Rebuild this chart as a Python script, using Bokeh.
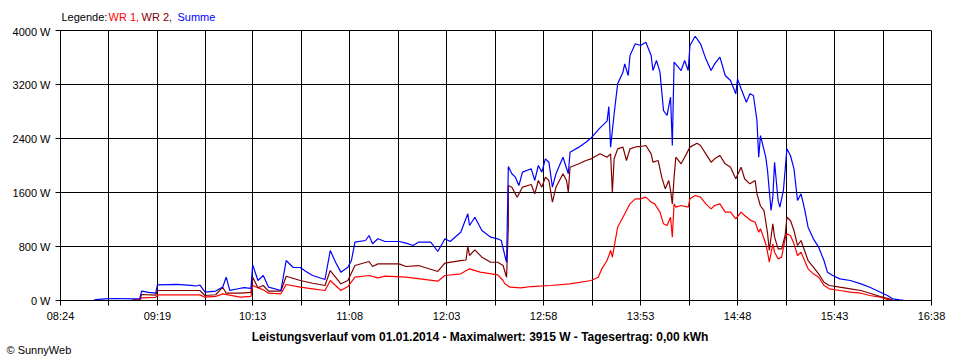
from bokeh.plotting import figure
from bokeh.models import Range1d, FixedTicker, CustomJSTickFormatter, Label
from bokeh.embed import file_html
from bokeh.resources import INLINE

# ---------------- data ----------------
x_tick_labels = ["08:24", "09:19", "10:13", "11:08", "12:03",
                 "12:58", "13:53", "14:48", "15:43", "16:38"]
y_ticks = [0, 800, 1600, 2400, 3200, 4000]

# Summe (blue)
t_sum = ["08:43", "08:49", "08:55", "09:05", "09:09", "09:10", "09:14", "09:18", "09:19", "09:30",
         "09:38", "09:41", "09:43", "09:46", "09:52", "09:56", "09:58", "10:00", "10:04", "10:08",
         "10:12", "10:13", "10:16", "10:19", "10:22", "10:29", "10:32", "10:36", "10:40", "10:43",
         "10:47", "10:54", "10:57", "11:00", "11:03", "11:07", "11:09", "11:11", "11:17", "11:19",
         "11:21", "11:24", "11:28", "11:36", "11:40", "11:44", "11:47", "11:54", "11:58", "12:02",
         "12:05", "12:11", "12:15", "12:16", "12:19", "12:23", "12:28", "12:32", "12:34", "12:36",
         "12:37", "12:38", "12:40", "12:42", "12:44", "12:46", "12:51", "12:53", "12:55", "12:57",
         "12:59", "13:01", "13:03", "13:05", "13:09", "13:12", "13:13", "13:18", "13:22", "13:25",
         "13:30", "13:34", "13:35", "13:36", "13:38", "13:40", "13:43", "13:44", "13:46", "13:47",
         "13:50", "13:53", "13:56", "13:59", "14:00", "14:02", "14:04", "14:06", "14:08", "14:10",
         "14:11", "14:12", "14:16", "14:18", "14:20", "14:21", "14:24", "14:27", "14:30", "14:33",
         "14:35", "14:38", "14:41", "14:44", "14:47", "14:48", "14:50", "14:53", "14:55", "14:57",
         "14:59", "15:00", "15:01", "15:04", "15:05", "15:07", "15:08", "15:09", "15:11", "15:12",
         "15:14", "15:16", "15:18", "15:20", "15:22", "15:24", "15:26", "15:28", "15:31", "15:34",
         "15:37", "15:39", "15:42", "15:46", "15:52", "15:58", "16:03", "16:09", "16:13", "16:16",
         "16:20", "16:22"]
p_sum = [10, 25, 30, 25, 30, 138, 120, 110, 232, 240,
         225, 215, 230, 123, 140, 200, 345, 150, 170, 190,
         180, 528, 296, 370, 197, 148, 592, 489, 489, 434,
         370, 311, 740, 567, 420, 493, 592, 864, 889, 963,
         840, 914, 874, 874, 849, 815, 864, 864, 726, 914,
         874, 1012, 1284, 1111, 1234, 1037, 938, 914, 889, 667,
         567, 1985, 1877, 1827, 1704, 1901, 1951, 1778, 2000, 1901,
         2099, 2049, 1679, 1877, 2123, 1877, 2197, 2272, 2345, 2410,
         2558, 2657, 2874, 2272, 2766, 3210, 3383, 3506, 3333, 3630,
         3803, 3778, 3827, 3630, 3407, 3556, 3383, 2815, 2741, 3012,
         2296, 3531, 3407, 3556, 3407, 3778, 3915, 3803, 3580, 3407,
         3506, 3605, 3333, 3259, 3062, 3284, 3136, 2938, 3062, 3037,
         2667, 2123, 2444, 2123, 1926, 1333, 1531, 2049, 1481, 1382,
         1630, 2247, 2148, 1951, 1481, 1580, 1358, 1086, 914, 790,
         592, 420, 370, 321, 296, 247, 197, 123, 74, 25,
         10, 5]

# WR 2 (dark red)
t_wr2 = ["09:05", "09:09", "09:10", "09:18", "09:19", "09:43", "09:46", "09:52", "09:56", "09:58",
         "10:06", "10:12", "10:13", "10:16", "10:19", "10:22", "10:29", "10:32", "10:40", "10:47",
         "10:54", "10:57", "11:03", "11:07", "11:11", "11:19", "11:21", "11:24", "11:36", "11:40",
         "11:47", "11:58", "12:02", "12:11", "12:14", "12:15", "12:16", "12:19", "12:23", "12:28",
         "12:32", "12:35", "12:37", "12:38", "12:38", "12:40", "12:43", "12:46", "12:51", "12:53",
         "12:55", "12:57", "12:59", "13:01", "13:03", "13:05", "13:09", "13:11", "13:12", "13:13",
         "13:18", "13:22", "13:25", "13:30", "13:34", "13:36", "13:37", "13:38", "13:40", "13:43",
         "13:45", "13:47", "13:51", "13:53", "13:56", "13:59", "14:00", "14:03", "14:05", "14:07",
         "14:09", "14:10", "14:11", "14:12", "14:13", "14:16", "14:18", "14:21", "14:25", "14:27",
         "14:30", "14:33", "14:35", "14:38", "14:41", "14:44", "14:47", "14:50", "14:52", "14:55",
         "14:58", "14:59", "15:01", "15:03", "15:05", "15:06", "15:08", "15:09", "15:11", "15:13",
         "15:15", "15:16", "15:18", "15:20", "15:22", "15:24", "15:26", "15:28", "15:31", "15:34",
         "15:37", "15:40", "15:46", "15:52", "15:58", "16:03", "16:09", "16:14", "16:16"]
p_wr2 = [10, 15, 89, 80, 148, 148, 74, 85, 197, 108,
         108, 120, 345, 188, 222, 138, 138, 360, 296, 256,
         222, 444, 247, 296, 518, 578, 504, 543, 543, 504,
         518, 430, 553, 592, 600, 800, 667, 751, 642, 567,
         567, 518, 345, 1100, 1704, 1679, 1531, 1679, 1719, 1580,
         1778, 1679, 1827, 1778, 1457, 1679, 1877, 1778, 1605, 1975,
         2025, 2074, 2099, 2173, 2123, 2173, 1605, 2099, 2247, 2272,
         2074, 2247, 2281, 2281, 2296, 2173, 2049, 2074, 1827, 1654,
         1778, 1630, 1432, 1827, 2123, 2025, 2123, 2272, 2331, 2296,
         2173, 2049, 2099, 2148, 2025, 1975, 1803, 1975, 1803, 1728,
         1778, 1580, 1400, 1333, 1000, 741, 1136, 938, 765, 765,
         963, 1234, 1185, 1037, 815, 889, 741, 592, 493, 395,
         271, 222, 197, 173, 148, 108, 59, 25, 5]

# WR 1 (red)
t_wr1 = ["09:05", "09:09", "09:10", "09:18", "09:19", "09:43", "09:46", "09:52", "09:56", "10:06",
         "10:12", "10:13", "10:19", "10:22", "10:29", "10:32", "10:40", "10:47", "10:54", "10:57",
         "11:03", "11:07", "11:11", "11:19", "11:24", "11:28", "11:40", "11:58", "12:02", "12:11",
         "12:16", "12:22", "12:32", "12:35", "12:36", "12:39", "12:45", "12:51", "13:02", "13:13",
         "13:25", "13:29", "13:31", "13:34", "13:36", "13:37", "13:39", "13:40", "13:43", "13:45",
         "13:47", "13:50", "13:53", "13:56", "13:59", "14:01", "14:04", "14:06", "14:08", "14:10",
         "14:11", "14:12", "14:13", "14:16", "14:20", "14:21", "14:24", "14:27", "14:30", "14:33",
         "14:35", "14:38", "14:41", "14:44", "14:47", "14:50", "14:52", "14:55", "14:58", "15:00",
         "15:01", "15:03", "15:04", "15:05", "15:06", "15:08", "15:09", "15:11", "15:13", "15:15",
         "15:16", "15:18", "15:20", "15:22", "15:24", "15:26", "15:28", "15:31", "15:34", "15:37",
         "15:40", "15:46", "15:52", "15:58", "16:03", "16:09", "16:14", "16:16"]
p_wr1 = [5, 10, 40, 45, 84, 84, 49, 60, 99, 49,
         60, 222, 158, 108, 99, 237, 197, 173, 148, 296,
         148, 207, 345, 370, 336, 360, 345, 286, 370, 395,
         469, 420, 380, 296, 247, 197, 188, 207, 222, 247,
         296, 345, 469, 592, 741, 642, 938, 1086, 1234, 1333,
         1432, 1506, 1506, 1531, 1457, 1432, 1309, 1136, 1111, 1234,
         938, 1432, 1383, 1407, 1383, 1506, 1556, 1531, 1432, 1358,
         1407, 1432, 1309, 1309, 1210, 1309, 1259, 1195, 1160, 1012,
         1062, 914, 840, 716, 567, 840, 716, 617, 642, 914,
         988, 963, 840, 667, 716, 592, 469, 395, 345, 222,
         173, 148, 123, 108, 74, 49, 10, 0]

legend_parts = ["Legende:", "WR 1,", "WR 2,", "Summe"]
title_text = "Leistungsverlauf vom 01.01.2014 - Maximalwert: 3915 W - Tagesertrag: 0,00 kWh"
credit_text = "© SunnyWeb"


def to_min(s):
    h, m = s.split(":")
    return int(h) * 60 + int(m)


x_sum = [to_min(s) for s in t_sum]
x_wr1 = [to_min(s) for s in t_wr1]
x_wr2 = [to_min(s) for s in t_wr2]

label_pos = [to_min(s) for s in x_tick_labels]
all_ticks = []
for i, v in enumerate(label_pos):
    all_ticks.append(v)
    if i < len(label_pos) - 1:
        all_ticks.append((v + label_pos[i + 1]) / 2)

FONT = "Liberation Sans"
W = 960


def text_strip(h):
    f = figure(width=W, height=h, output_backend="svg", toolbar_location=None,
               x_axis_type=None, y_axis_type=None, x_range=Range1d(0, 1), y_range=Range1d(0, 1),
               min_border=0, min_border_left=0, min_border_right=0,
               min_border_top=0, min_border_bottom=0, outline_line_color=None,
               background_fill_color="white", border_fill_color="white")
    f.grid.visible = False
    return f


# ---------- legend strip (page rows 0..25) ----------
leg = text_strip(25)
leg_colors = ["black", "#ff0000", "#800000", "#0000ff"]
leg_x = [61, 108, 141, 177]
for txt, col, xx in zip(legend_parts, leg_colors, leg_x):
    leg.add_layout(Label(x=xx, y=8.5, x_units="screen", y_units="screen", text=txt,
                         text_color=col, text_font=FONT, text_font_size="11px",
                         text_baseline="middle", text_align="left"))

# ---------- main chart (page rows 25..324) ----------
p = figure(width=W, height=299, output_backend="svg", toolbar_location=None,
           x_range=Range1d(label_pos[0], label_pos[-1]), y_range=Range1d(y_ticks[0], y_ticks[-1]),
           min_border_left=60, min_border_right=29, min_border_top=5, min_border_bottom=24,
           background_fill_color="white", border_fill_color="white")

p.outline_line_color = "black"
p.outline_line_width = 1
p.outline_line_alpha = 1

p.xaxis.ticker = FixedTicker(ticks=all_ticks)
p.xaxis.formatter = CustomJSTickFormatter(args=dict(labels=x_tick_labels),
                                          code="return (index % 2 == 0) ? labels[index / 2] : '';")
p.yaxis.ticker = FixedTicker(ticks=y_ticks)
p.yaxis.formatter = CustomJSTickFormatter(code="return tick.toFixed(0) + ' W';")

for ax in (p.xaxis, p.yaxis):
    ax.axis_line_color = "black"
    ax.major_tick_line_color = "black"
    ax.major_tick_in = 0
    ax.major_tick_out = 5
    ax.minor_tick_line_color = None
    ax.major_label_text_font = FONT
    ax.major_label_text_font_size = "11px"
    ax.major_label_text_color = "black"
p.xaxis.major_label_standoff = 4
p.yaxis.major_label_standoff = 5

p.xgrid.ticker = FixedTicker(ticks=all_ticks)
p.ygrid.ticker = FixedTicker(ticks=y_ticks)
for g in (p.xgrid, p.ygrid):
    g.grid_line_color = "black"
    g.grid_line_alpha = 1
    g.grid_line_width = 1

p.line(x_wr1, p_wr1, line_color="#ff0000", line_width=1.2)
p.line(x_wr2, p_wr2, line_color="#800000", line_width=1.2)
p.line(x_sum, p_sum, line_color="#0000ff", line_width=1.2)

# ---------- footer strip (page rows 324..360) ----------
foot = text_strip(36)
foot.add_layout(Label(x=479.5, y=23.5, x_units="screen", y_units="screen", text=title_text,
                      text_font=FONT, text_font_size="12px", text_font_style="bold",
                      text_baseline="middle", text_align="center", text_color="black"))
foot.add_layout(Label(x=6, y=11, x_units="screen", y_units="screen", text=credit_text,
                      text_font=FONT, text_font_size="11px", text_baseline="middle",
                      text_align="left", text_color="black"))

open("out.html", "w").write(file_html([leg, p, foot], INLINE))
